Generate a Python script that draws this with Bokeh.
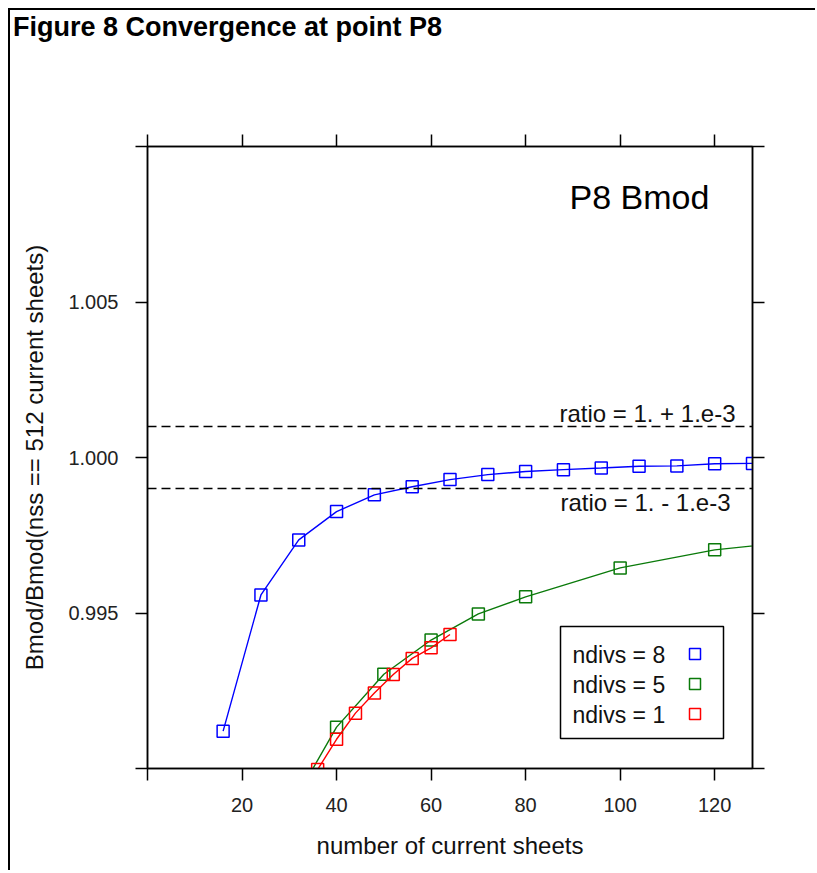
from bokeh.plotting import figure
from bokeh.layouts import column
from bokeh.models import (Range1d, LinearAxis, FixedTicker, Span, Label, BoxAnnotation,
                          NumeralTickFormatter, Div)
from bokeh.embed import file_html
from bokeh.resources import INLINE

# ---------------- data ----------------
nss_8 = [16, 24, 32, 40, 48, 56, 64, 72, 80, 88, 96, 104, 112, 120, 128]
ratio_8 = [0.99120, 0.99558, 0.99735, 0.99826, 0.99880, 0.99906, 0.99929, 0.99945,
           0.99955, 0.99961, 0.99966, 0.99972, 0.99973, 0.99980, 0.99981]

nss_5 = [30, 40, 50, 60, 70, 80, 100, 120, 140]
ratio_5 = [0.98867, 0.99133, 0.99303, 0.99413, 0.99497, 0.99552, 0.99645, 0.99703, 0.99735]

nss_1 = [36, 40, 44, 48, 52, 56, 60, 64]
ratio_1 = [0.98997, 0.99094, 0.99178, 0.99243, 0.99302, 0.99354, 0.99388, 0.99431]

series_labels = ["ndivs = 8", "ndivs = 5", "ndivs = 1"]
series_colors = ["#0000ff", "#0a7a0a", "#ff0000"]

x_labeled_ticks = [20, 40, 60, 80, 100, 120]
x_edge_ticks = [0]
y_labeled_ticks = [0.995, 1.0, 1.005]
y_edge_ticks = [0.99, 1.01]
ratio_hi = 1.001
ratio_lo = 0.999

FONT = "Liberation Sans"

W = 805
TITLE_H = 40
H = 820
p = figure(width=W, height=H, output_backend="svg", toolbar_location=None,
           x_range=Range1d(0, 128), y_range=Range1d(0.99, 1.01),
           x_axis_location=None, y_axis_location=None,
           min_border_left=137, min_border_top=96, min_border_right=63, min_border_bottom=102)
p.xgrid.visible = False
p.ygrid.visible = False
p.outline_line_color = "black"
p.outline_line_width = 1.5
p.background_fill_color = "white"
p.border_fill_color = "white"


def style_axis(ax):
    ax.axis_line_color = "black"
    ax.axis_line_width = 1.5
    ax.major_tick_line_color = "black"
    ax.major_tick_line_width = 1.5
    ax.major_tick_in = 0
    ax.major_tick_out = 12
    ax.minor_tick_line_color = "black"
    ax.minor_tick_line_width = 1.5
    ax.minor_tick_in = 0
    ax.minor_tick_out = 12
    ax.major_label_text_font = FONT
    ax.major_label_text_color = "#222222"
    ax.major_label_standoff = 17
    ax.major_label_text_font_size = "20px"
    ax.axis_label_text_font = FONT
    ax.axis_label_text_font_size = "24px"
    ax.axis_label_text_font_style = "normal"
    ax.axis_label_text_color = "#111111"
    ax.axis_label_standoff = 17


# bottom / left axes: labelled major ticks, unlabelled edge ticks as minor ticks
xb = LinearAxis(ticker=FixedTicker(ticks=x_labeled_ticks, minor_ticks=x_edge_ticks),
                axis_label="number of current sheets")
yl = LinearAxis(ticker=FixedTicker(ticks=y_labeled_ticks, minor_ticks=y_edge_ticks),
                axis_label="Bmod/Bmod(nss == 512 current sheets)",
                formatter=NumeralTickFormatter(format="0.000"))
# top / right axes: ticks only (all as minor ticks, so no labels)
xt = LinearAxis(ticker=FixedTicker(ticks=[], minor_ticks=x_edge_ticks + x_labeled_ticks))
yr = LinearAxis(ticker=FixedTicker(ticks=[], minor_ticks=y_edge_ticks + y_labeled_ticks))
for ax in (xb, yl, xt, yr):
    style_axis(ax)
p.add_layout(xb, "below")
p.add_layout(xt, "above")
p.add_layout(yl, "left")
p.add_layout(yr, "right")

# reference ratio lines
for loc in (ratio_hi, ratio_lo):
    p.add_layout(Span(location=loc, dimension="width", line_color="black",
                      line_width=1.5, line_dash="9 5"))

# series
for xs, ys, c in ((nss_8, ratio_8, series_colors[0]),
                  (nss_5, ratio_5, series_colors[1]),
                  (nss_1, ratio_1, series_colors[2])):
    p.line(xs, ys, line_color=c, line_width=1.4)
    p.scatter(xs, ys, marker="square", size=12, fill_color=None, line_color=c, line_width=1.5)

PXX = 605 / 128.0    # px per x unit
PXY = 622 / 0.02     # px per y unit


def dx(px):
    return (px - 147) / PXX


def dy(py):
    return 1.0 - (py - 457) / PXY


# texts inside the panel
p.add_layout(Label(x=dx(639), y=dy(196), text="P8 Bmod", text_font=FONT,
                   text_font_size="34px", text_color="black",
                   text_align="center", text_baseline="middle"))
p.add_layout(Label(x=dx(735), y=dy(413), text="ratio = 1. + 1.e-3", text_font=FONT,
                   text_font_size="24px", text_color="#111111",
                   text_align="right", text_baseline="middle"))
p.add_layout(Label(x=dx(730), y=dy(502), text="ratio = 1. - 1.e-3", text_font=FONT,
                   text_font_size="24px", text_color="#111111",
                   text_align="right", text_baseline="middle"))

# legend (text then symbol, as in the reference)
p.add_layout(BoxAnnotation(left=dx(560), right=dx(723), top=dy(626), bottom=dy(738),
                           fill_color="white", fill_alpha=1.0, line_color="black",
                           line_alpha=1.0, line_width=1.5, level="overlay"))
row_y = [654, 684, 714]
for lab, c, ry in zip(series_labels, series_colors, row_y):
    p.add_layout(Label(x=dx(572), y=dy(ry), text=lab, text_font=FONT, text_font_size="23px",
                       text_color="#111111", text_align="left", text_baseline="middle",
                       level="overlay"))
    p.add_layout(BoxAnnotation(left=dx(689), right=dx(700), top=dy(ry - 6), bottom=dy(ry + 5),
                               fill_alpha=0.0, line_color=c, line_alpha=1.0, line_width=1.5,
                               level="overlay"))

title = Div(text="Figure 8 Convergence at point P8", width=W, height=TITLE_H,
            margin=(0, 0, 0, 0),
            styles={"font-family": FONT, "font-size": "27px", "font-weight": "bold",
                    "line-height": "27px", "padding-top": "4px", "padding-left": "3px",
                    "color": "black", "box-sizing": "border-box"})

layout = column(title, p, spacing=0,
                styles={"margin-left": "8px", "margin-top": "8px",
                        "border-top": "2px solid black", "border-left": "2px solid black"})

open("out.html", "w").write(file_html(layout, INLINE))
